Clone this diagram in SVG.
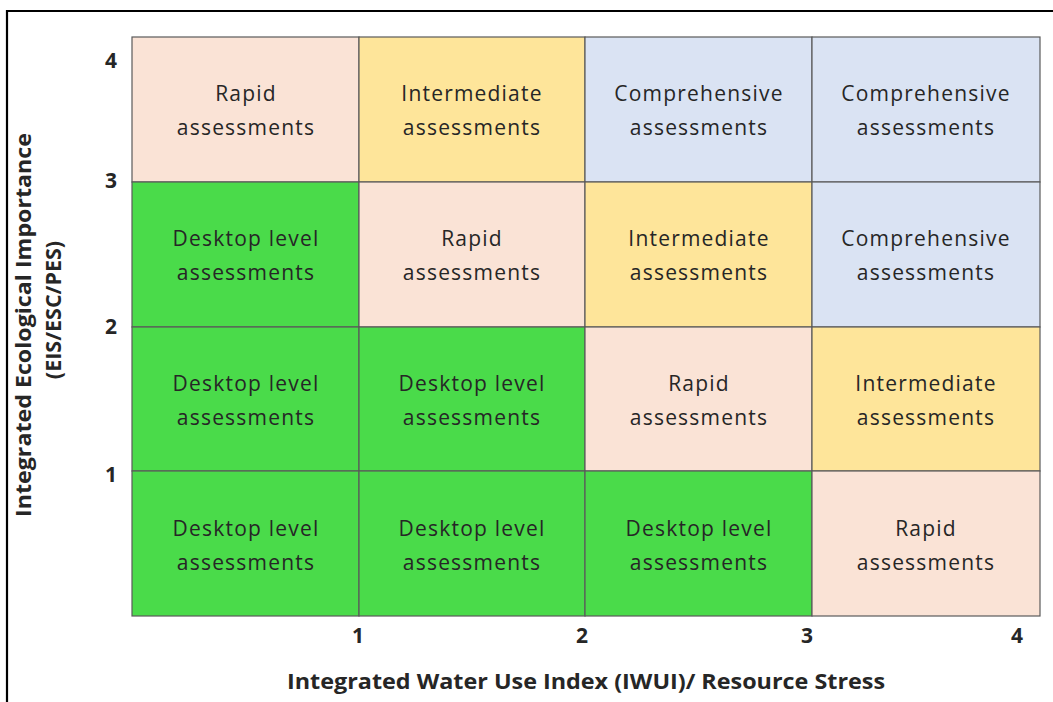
<svg xmlns="http://www.w3.org/2000/svg" width="1053" height="702" viewBox="0 0 1053 702">
<style>
.cell{stroke:#5a5a5a;stroke-width:1.2}
.rapid{fill:#FAE3D6}
.inter{fill:#FEE59A}
.comp{fill:#DAE3F3}
.desk{fill:#4ADB4A}
.lbl{font-family:"Open Sans","Liberation Sans",sans-serif;font-size:21px;fill:#262626;text-anchor:middle;letter-spacing:1.2px}
.tick{font-family:"Open Sans","Liberation Sans",sans-serif;font-size:21px;font-weight:bold;fill:#262626;text-anchor:middle}
.axis{font-family:"Open Sans","Liberation Sans",sans-serif;font-size:21.5px;font-weight:bold;fill:#262626;text-anchor:middle}
</style>
<rect x="0" y="0" width="1053" height="702" fill="#ffffff"/>
<path d="M7,702 V11 H1053" fill="none" stroke="#000000" stroke-width="2.2"/>

<g id="row4">
<g id="c-1-4"><rect class="cell rapid" x="132" y="37" width="227" height="145"/><text class="lbl" x="246" y="101">Rapid</text><text class="lbl" x="246" y="135">assessments</text></g>
<g id="c-2-4"><rect class="cell inter" x="359" y="37" width="226" height="145"/><text class="lbl" x="472" y="101">Intermediate</text><text class="lbl" x="472" y="135">assessments</text></g>
<g id="c-3-4"><rect class="cell comp" x="585" y="37" width="227" height="145"/><text class="lbl" x="699" y="101">Comprehensive</text><text class="lbl" x="699" y="135">assessments</text></g>
<g id="c-4-4"><rect class="cell comp" x="812" y="37" width="228" height="145"/><text class="lbl" x="926" y="101">Comprehensive</text><text class="lbl" x="926" y="135">assessments</text></g>
</g>
<g id="row3">
<g id="c-1-3"><rect class="cell desk" x="132" y="182" width="227" height="145"/><text class="lbl" x="246" y="246">Desktop level</text><text class="lbl" x="246" y="280">assessments</text></g>
<g id="c-2-3"><rect class="cell rapid" x="359" y="182" width="226" height="145"/><text class="lbl" x="472" y="246">Rapid</text><text class="lbl" x="472" y="280">assessments</text></g>
<g id="c-3-3"><rect class="cell inter" x="585" y="182" width="227" height="145"/><text class="lbl" x="699" y="246">Intermediate</text><text class="lbl" x="699" y="280">assessments</text></g>
<g id="c-4-3"><rect class="cell comp" x="812" y="182" width="228" height="145"/><text class="lbl" x="926" y="246">Comprehensive</text><text class="lbl" x="926" y="280">assessments</text></g>
</g>
<g id="row2">
<g id="c-1-2"><rect class="cell desk" x="132" y="327" width="227" height="144"/><text class="lbl" x="246" y="391">Desktop level</text><text class="lbl" x="246" y="425">assessments</text></g>
<g id="c-2-2"><rect class="cell desk" x="359" y="327" width="226" height="144"/><text class="lbl" x="472" y="391">Desktop level</text><text class="lbl" x="472" y="425">assessments</text></g>
<g id="c-3-2"><rect class="cell rapid" x="585" y="327" width="227" height="144"/><text class="lbl" x="699" y="391">Rapid</text><text class="lbl" x="699" y="425">assessments</text></g>
<g id="c-4-2"><rect class="cell inter" x="812" y="327" width="228" height="144"/><text class="lbl" x="926" y="391">Intermediate</text><text class="lbl" x="926" y="425">assessments</text></g>
</g>
<g id="row1">
<g id="c-1-1"><rect class="cell desk" x="132" y="471" width="227" height="145"/><text class="lbl" x="246" y="536">Desktop level</text><text class="lbl" x="246" y="570">assessments</text></g>
<g id="c-2-1"><rect class="cell desk" x="359" y="471" width="226" height="145"/><text class="lbl" x="472" y="536">Desktop level</text><text class="lbl" x="472" y="570">assessments</text></g>
<g id="c-3-1"><rect class="cell desk" x="585" y="471" width="227" height="145"/><text class="lbl" x="699" y="536">Desktop level</text><text class="lbl" x="699" y="570">assessments</text></g>
<g id="c-4-1"><rect class="cell rapid" x="812" y="471" width="228" height="145"/><text class="lbl" x="926" y="536">Rapid</text><text class="lbl" x="926" y="570">assessments</text></g>
</g>

<g id="y-ticks">
<text class="tick" x="111" y="68">4</text>
<text class="tick" x="111" y="188">3</text>
<text class="tick" x="111" y="334">2</text>
<text class="tick" x="111" y="482">1</text>
</g>
<g id="x-ticks">
<text class="tick" x="358" y="643">1</text>
<text class="tick" x="582" y="643">2</text>
<text class="tick" x="807" y="643">3</text>
<text class="tick" x="1017" y="643">4</text>
</g>
<g id="x-title">
<text class="axis" x="586" y="689" textLength="598" lengthAdjust="spacingAndGlyphs">Integrated Water Use Index (IWUI)/ Resource Stress</text>
</g>
<g id="y-title">
<text class="axis" transform="translate(31,325) rotate(-90)" x="0" y="0" textLength="384" lengthAdjust="spacingAndGlyphs">Integrated Ecological Importance</text>
<text class="axis" transform="translate(61,310) rotate(-90)" x="0" y="0">(EIS/ESC/PES)</text>
</g>
</svg>
